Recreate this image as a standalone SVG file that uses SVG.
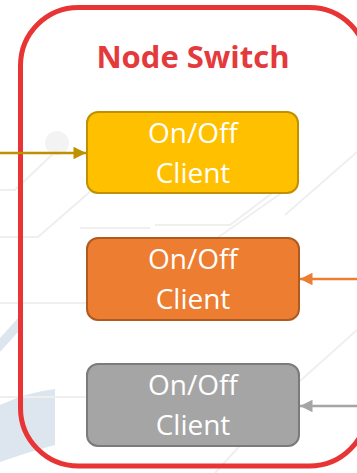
<svg xmlns="http://www.w3.org/2000/svg" width="357" height="473" viewBox="0 0 357 473">
  <defs>
    <style>
      .bg-line { fill: none; stroke: #EFEFEF; stroke-width: 2; }
      .box { stroke-width: 2; }
      .label { font-family: "Open Sans", "Liberation Sans", sans-serif; font-size: 28px; text-anchor: middle; fill: #FFFFFF; }
      .title { font-family: "Open Sans", "Liberation Sans", sans-serif; font-size: 31px; font-weight: bold; text-anchor: middle; fill: #E53A3C; }
      .wire { fill: none; stroke-width: 2.5; }
    </style>
    <marker id="head-gold" viewBox="0 0 10 10" refX="10" refY="5" markerWidth="6" markerHeight="5" markerUnits="strokeWidth" orient="auto">
      <path d="M0,0 L10,5 L0,10 Z" fill="#BF9000"/>
    </marker>
    <marker id="head-orange" viewBox="0 0 10 10" refX="10" refY="5" markerWidth="6" markerHeight="5" markerUnits="strokeWidth" orient="auto">
      <path d="M0,0 L10,5 L0,10 Z" fill="#ED7D31"/>
    </marker>
    <marker id="head-gray" viewBox="0 0 10 10" refX="10" refY="5" markerWidth="6" markerHeight="5" markerUnits="strokeWidth" orient="auto">
      <path d="M0,0 L10,5 L0,10 Z" fill="#A5A5A5"/>
    </marker>
  </defs>

  <rect x="0" y="0" width="357" height="473" fill="#FFFFFF"/>

  <!-- faint backdrop pattern -->
  <g id="backdrop">
    <path d="M0,338 L18,318 L18,332 L0,352 Z" fill="#DDE6EF"/>
    <path d="M0,405 Q28,392 55,389 L55,445 Q28,452 0,462 Z" fill="#DDE6EF"/>
    <circle cx="57" cy="143" r="12" fill="#F3F3F3"/>
    <polyline class="bg-line" points="0,190 15,190 57,150"/>
    <polyline class="bg-line" points="0,237 38,237 92,190"/>
    <polyline class="bg-line" points="0,303 90,303"/>
    <polyline class="bg-line" points="0,397 90,397"/>
    <polyline class="bg-line" points="150,228 80,228"/>
    <polyline class="bg-line" points="155,225 230,225 300,172"/>
    <polyline class="bg-line" points="200,250 300,180"/>
    <polyline class="bg-line" points="285,215 357,152"/>
    <polyline class="bg-line" points="290,390 357,330"/>
    <polyline class="bg-line" points="215,473 300,380"/>
  </g>

  <!-- container -->
  <g id="node-switch">
    <rect x="20.5" y="7.5" width="347" height="458.5" rx="58" ry="58" fill="none" stroke="#E83434" stroke-width="5"/>
    <text class="title" x="193" y="68">Node Switch</text>
  </g>

  <g id="client-yellow">
    <rect class="box" x="87" y="112" width="211" height="81" rx="11" fill="#FFC000" stroke="#BF9000"/>
    <text class="label" x="193" y="143">On/Off</text>
    <text class="label" x="193" y="183">Client</text>
  </g>

  <g id="client-orange">
    <rect class="box" x="87" y="238" width="212" height="82" rx="11" fill="#ED7D31" stroke="#AE5A21"/>
    <text class="label" x="193" y="269">On/Off</text>
    <text class="label" x="193" y="309">Client</text>
  </g>

  <g id="client-gray">
    <rect class="box" x="87" y="364" width="212" height="82" rx="11" fill="#A5A5A5" stroke="#7B7B7B"/>
    <text class="label" x="193" y="395" fill="#F2F2F2">On/Off</text>
    <text class="label" x="193" y="435" fill="#F2F2F2">Client</text>
  </g>

  <!-- connectors -->
  <g id="connectors">
    <line class="wire" x1="0" y1="153" x2="86" y2="153" stroke="#BF9000" marker-end="url(#head-gold)"/>
    <line class="wire" x1="357" y1="279" x2="300" y2="279" stroke="#ED7D31" marker-end="url(#head-orange)"/>
    <line class="wire" x1="357" y1="406" x2="300" y2="406" stroke="#A5A5A5" marker-end="url(#head-gray)"/>
  </g>
</svg>
